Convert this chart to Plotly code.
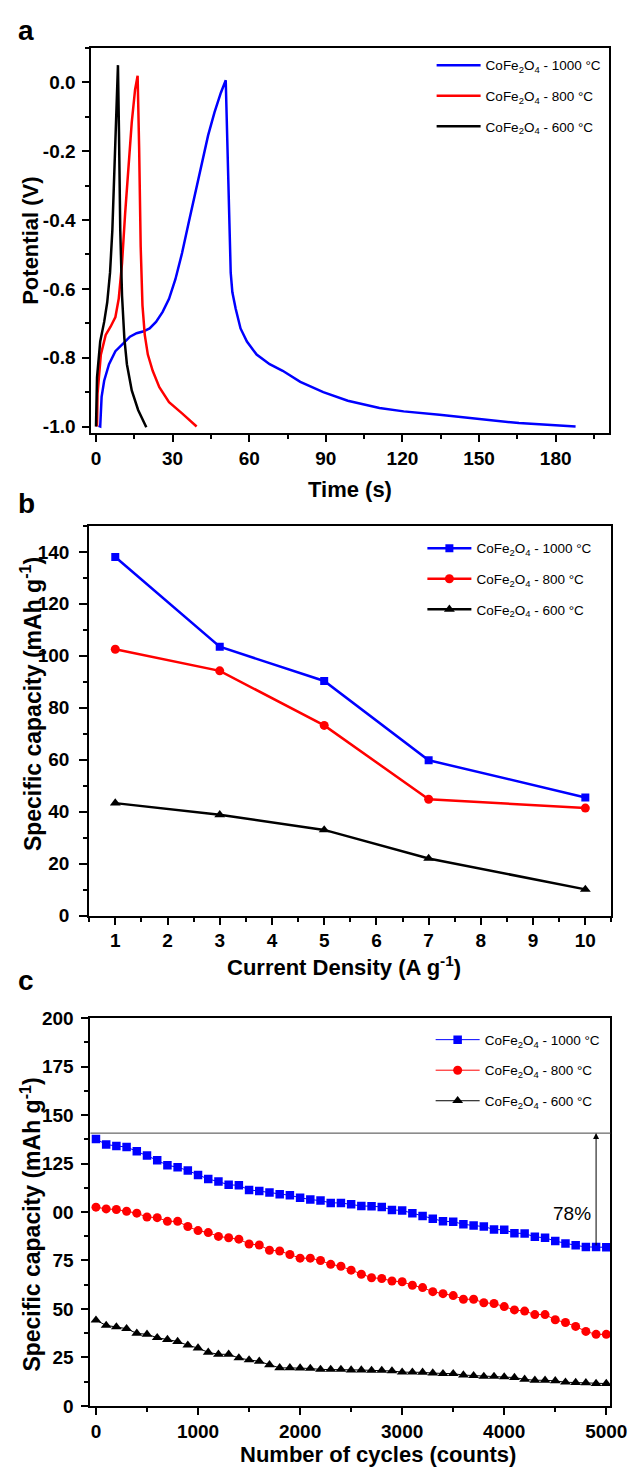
import plotly.graph_objects as go

W, H = 644, 1477
FONT = "Liberation Sans, Arial, sans-serif"

BLUE, RED, BLACK = "#0000FF", "#FF0000", "#000000"
NAMES = [
    "CoFe<sub>2</sub>O<sub>4</sub> - 1000 °C",
    "CoFe<sub>2</sub>O<sub>4</sub> - 800 °C",
    "CoFe<sub>2</sub>O<sub>4</sub> - 600 °C",
]

# ---- (a) galvanostatic charge/discharge curves: time (s) vs potential (V)
t_1000 = [1.0, 1.65, 2.2, 3.2, 5.1, 7.6, 10.8, 13.3, 15.9, 18.4, 21.0, 23.5, 26.1, 28.6,
          31.1, 33.7, 36.2, 38.8, 41.3, 43.9, 46.4, 48.9, 50.8, 51.5, 52.1, 52.75, 53.4,
          54.7, 56.6, 59.1, 62.9, 68.0, 73.1, 80.0, 89.0, 98.6, 111.0, 120.5, 134.5,
          150.0, 165.6, 187.8]
v_1000 = [-0.998, -1.000, -0.914, -0.867, -0.819, -0.781, -0.758, -0.739, -0.729, -0.724,
          -0.715, -0.696, -0.667, -0.629, -0.572, -0.496, -0.411, -0.325, -0.240, -0.154,
          -0.087, -0.030, 0.006, -0.192, -0.430, -0.553, -0.610, -0.658, -0.715, -0.753,
          -0.791, -0.819, -0.838, -0.870, -0.900, -0.925, -0.946, -0.956, -0.966, -0.977,
          -0.990, -1.000]

t_800 = [0.4, 0.6, 1.9, 3.8, 5.7, 7.6, 8.9, 10.2, 11.4, 12.7, 14.0, 15.3, 16.3, 16.9,
         17.5, 18.2, 19.1, 20.3, 22.2, 24.8, 28.6, 33.7, 39.4]
v_800 = [-1.000, -0.905, -0.791, -0.734, -0.710, -0.682, -0.629, -0.525, -0.382, -0.240,
         -0.116, -0.021, 0.019, -0.192, -0.477, -0.648, -0.734, -0.791, -0.838, -0.886,
         -0.929, -0.962, -1.000]

t_600 = [0.0, 0.4, 1.65, 3.2, 4.4, 5.5, 6.4, 7.0, 7.6, 8.3, 8.6, 9.0, 9.5, 10.2, 11.1,
         12.1, 14.0, 16.5, 19.7]
v_600 = [-1.000, -0.857, -0.753, -0.696, -0.639, -0.553, -0.430, -0.287, -0.144, -0.002,
         0.050, -0.144, -0.430, -0.620, -0.743, -0.819, -0.895, -0.952, -1.002]

# ---- (b) rate capability
current_density = [1, 3, 5, 7, 10]
rate_1000 = [138.0, 103.5, 90.3, 59.8, 45.5]
rate_800 = [102.5, 94.2, 73.2, 44.8, 41.4]
rate_600 = [43.3, 38.8, 33.0, 22.0, 10.1]

# ---- (c) cycling stability, one point every 100 cycles
cycles = list(range(0, 5001, 100))
cyc_1000 = [137.7, 134.8, 134.1, 133.5, 131.3, 129.2, 126.7, 124.1, 123.1, 121.4,
            119.1, 117.0, 115.7, 114.0, 113.8, 111.4, 110.8, 110.1, 109.1, 108.6,
            107.4, 106.4, 105.9, 104.7, 104.7, 104.0, 103.1, 103.0, 102.6, 101.1,
            100.8, 99.4, 97.9, 96.5, 95.2, 95.0, 93.7, 93.0, 92.5, 91.0,
            90.8, 89.1, 88.9, 87.2, 86.7, 85.0, 83.7, 82.8, 82.0, 82.0, 81.8]
cyc_800 = [102.5, 101.6, 101.3, 100.4, 99.4, 97.4, 97.1, 95.2, 95.2, 92.5,
           90.4, 89.4, 87.4, 86.7, 86.0, 83.5, 83.0, 80.3, 79.9, 78.1,
           76.2, 76.2, 75.0, 73.0, 72.0, 70.0, 67.9, 66.1, 65.7, 64.4,
           64.0, 62.2, 61.0, 58.9, 57.9, 56.9, 55.0, 55.0, 53.2, 52.8,
           51.2, 49.5, 48.9, 47.1, 47.1, 44.4, 43.0, 41.0, 38.4, 36.9, 36.9]
cyc_600 = [44.2, 41.5, 40.7, 39.8, 37.4, 36.9, 35.2, 34.2, 33.2, 31.3,
           29.8, 27.6, 26.6, 26.6, 24.7, 23.7, 23.0, 21.2, 19.6, 19.6,
           19.5, 19.3, 18.8, 18.8, 18.8, 18.5, 18.5, 18.3, 18.3, 18.0,
           17.4, 17.4, 17.3, 16.9, 16.6, 16.6, 15.9, 15.6, 15.2, 15.2,
           14.9, 14.6, 13.7, 13.2, 13.2, 12.9, 12.2, 12.0, 11.9, 11.5, 11.5]
ref_level = 140.7          # initial-capacity reference line
retention_cycle = 4900     # where the retention arrow is drawn
retention_text = "78%"

# tick labels written with a plain hyphen
a_yticks = [0.0, -0.2, -0.4, -0.6, -0.8, -1.0]
a_ylabels = ["0.0", "-0.2", "-0.4", "-0.6", "-0.8", "-1.0"]
c_yticks = [0, 25, 50, 75, 100, 125, 150, 175, 200]
c_ylabels = ["0", "25", "50", "75", "00", "125", "150", "175", "200"]


def px(x):
    return x / W


def py(y):
    return 1 - y / H


fig = go.Figure()

# (a)
for t, v, c, n in [(t_1000, v_1000, BLUE, NAMES[0]),
                   (t_800, v_800, RED, NAMES[1]),
                   (t_600, v_600, BLACK, NAMES[2])]:
    fig.add_trace(go.Scatter(x=t, y=v, mode="lines", name=n,
                             line=dict(color=c, width=2.5),
                             xaxis="x", yaxis="y", legend="legend", legendgroup="a" + n))

# (b)
for vals, c, sym, sz, n in [(rate_1000, BLUE, "square", 8, NAMES[0]),
                            (rate_800, RED, "circle", 9, NAMES[1]),
                            (rate_600, BLACK, "triangle-up", 9.5, NAMES[2])]:
    fig.add_trace(go.Scatter(x=current_density, y=vals, mode="lines+markers", name=n,
                             line=dict(color=c, width=2.5),
                             marker=dict(symbol=sym, size=sz, color=c),
                             xaxis="x2", yaxis="y2", legend="legend2", legendgroup="b" + n))

# (c)
for vals, c, sym, sz, n in [(cyc_1000, BLUE, "square", 8.5, NAMES[0]),
                            (cyc_800, RED, "circle", 9, NAMES[1]),
                            (cyc_600, BLACK, "triangle-up", 9.5, NAMES[2])]:
    fig.add_trace(go.Scatter(x=cycles, y=vals, mode="lines+markers", name=n,
                             line=dict(color=c, width=1),
                             marker=dict(symbol=sym, size=sz, color=c),
                             xaxis="x3", yaxis="y3", legend="legend3", legendgroup="c" + n))

tickfont = dict(family=FONT, size=19, color="black", weight="bold")


def axis_style(**kw):
    base = dict(showline=True, mirror=True, linecolor="black", linewidth=2,
                ticks="outside", ticklen=7, tickwidth=2, tickcolor="black",
                showgrid=False, zeroline=False, tickfont=tickfont)
    base.update(kw)
    return base


def minor(d):
    return dict(ticks="outside", ticklen=4, tickwidth=2, tickcolor="black", dtick=d,
                showgrid=False)


fig.update_layout(
    width=W, height=H,
    margin=dict(l=0, r=0, t=0, b=0),
    paper_bgcolor="white", plot_bgcolor="white",
    font=dict(family=FONT, color="black"),
    xaxis=axis_style(domain=[px(93), px(625)], range=[-1.8, 200.7], tickmode="linear",
                     tick0=0, dtick=30, minor=minor(15), anchor="y"),
    yaxis=axis_style(domain=[py(429.5), py(38.5)], range=[-1.02, 0.1], tickmode="array",
                     tickvals=a_yticks, ticktext=a_ylabels, ticklabelstandoff=3,
                     minor=dict(ticks="outside", ticklen=4, tickwidth=2, tickcolor="black",
                                tickvals=[-0.9, -0.7, -0.5, -0.3, -0.1, 0.1]),
                     anchor="x"),
    xaxis2=axis_style(domain=[px(90.7), px(628)], range=[0.5, 10.5], tickmode="linear",
                      tick0=1, dtick=1, minor=minor(0.5), anchor="y2"),
    yaxis2=axis_style(domain=[py(918.7), py(523.3)], range=[0, 150], tickmode="linear",
                      tick0=0, dtick=20, minor=minor(10), ticklen=8, ticklabelstandoff=6,
                      anchor="x2"),
    xaxis3=axis_style(domain=[px(92), px(627)], range=[-54.3, 5041], tickmode="linear",
                      tick0=0, dtick=1000, minor=minor(500), anchor="y3"),
    yaxis3=axis_style(domain=[py(1416), py(1022.7)], range=[0, 200], tickmode="array",
                      tickvals=c_yticks, ticktext=c_ylabels, ticklabelstandoff=4,
                      minor=dict(ticks="outside", ticklen=4, tickwidth=2, tickcolor="black",
                                 tickvals=[12.5 + 25 * k for k in range(8)]),
                      anchor="x3"),
)

legend_common = dict(xanchor="left", yanchor="top", bgcolor="rgba(0,0,0,0)",
                     font=dict(family=FONT, size=13.5, color="black"),
                     tracegroupgap=10, itemwidth=44)
fig.update_layout(
    legend=dict(x=px(443), y=py(40.5), **legend_common),
    legend2=dict(x=px(433.5), y=py(530.5), **legend_common),
    legend3=dict(x=px(442), y=py(1029), **legend_common),
)

# reference line and retention arrow in (c)
fig.add_shape(type="line", xref="x3 domain", yref="y3", x0=0, x1=1,
              y0=ref_level, y1=ref_level, line=dict(color="#444444", width=1))
arrow_tail = cyc_1000[cycles.index(retention_cycle)]
fig.add_annotation(x=retention_cycle, y=ref_level, ax=retention_cycle, ay=arrow_tail,
                   xref="x3", yref="y3", axref="x3", ayref="y3", text="",
                   showarrow=True, arrowhead=2, arrowsize=1.2, arrowwidth=1, arrowcolor="black")
fig.add_annotation(x=4660, y=99, xref="x3", yref="y3", text=retention_text, showarrow=False,
                   font=dict(family=FONT, size=19, color="black"))

title_font = dict(family=FONT, size=22, color="black", weight="bold")
ytitle_font = dict(family=FONT, size=23, color="black", weight="bold")
letter_font = dict(family=FONT, size=28, color="black", weight="bold")

texts = [
    # panel letters
    (26, 21, "a", letter_font, 0),
    (26, 501, "b", letter_font, 0),
    (26, 984, "c", letter_font, 0),
    # axis titles
    (359, 486, "Time (s)", title_font, 0),
    (353, 970, "Current Density (A g<sup>-1</sup>)", title_font, 0),
    (388, 1465, "Number of cycles (counts)", title_font, 0),
    (31, 234, "Potential (V)", title_font, -90),
    (31, 704, "Specific capacity (mAh g<sup>-1</sup>)", ytitle_font, -90),
    (31, 1232, "Specific capacity (mAh g<sup>-1</sup>)", ytitle_font, -90),
]
for x, y, s, f, ang in texts:
    fig.add_annotation(x=px(x), y=py(y), xref="paper", yref="paper", text=s,
                       showarrow=False, font=f, textangle=ang,
                       xanchor="center", yanchor="middle")

fig.write_html("out.html")
